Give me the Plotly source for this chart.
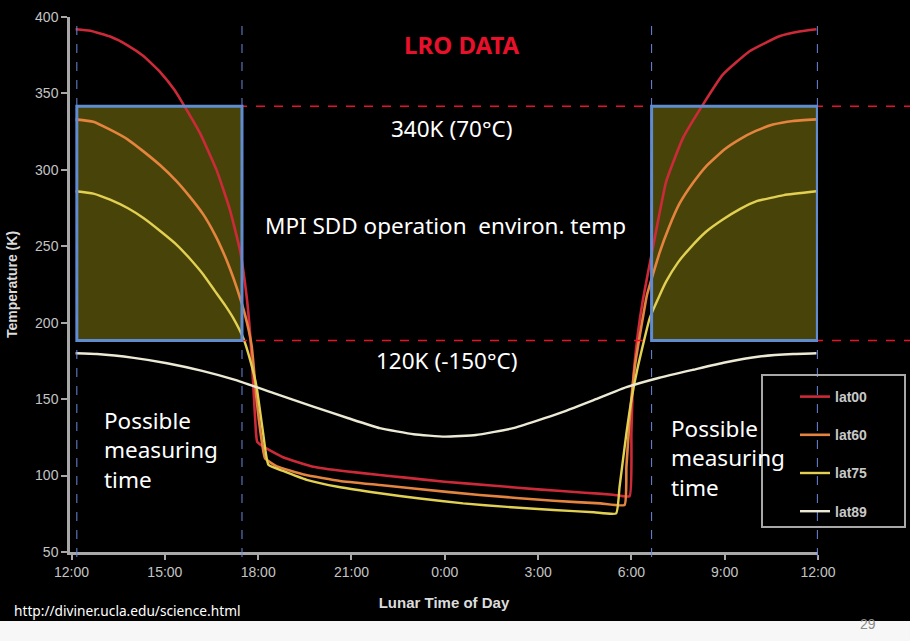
import plotly.graph_objects as go

# ---------------- data ----------------
# x = hours after local noon (0 = 12:00, 12 = 0:00, 24 = 12:00)
tick_vals = [0, 3, 6, 9, 12, 15, 18, 21, 24]
tick_text = ["12:00", "15:00", "18:00", "21:00", "0:00", "3:00", "6:00", "9:00", "12:00"]
y_ticks = [50, 100, 150, 200, 250, 300, 350, 400]

series_names = ["lat00", "lat60", "lat75", "lat89"]

lat00_h = [0.13, 0.6, 1.24, 1.8, 2.31, 2.85, 3.3, 3.59, 4.13, 4.67, 5.09, 5.42, 5.63, 5.74, 5.84,
           5.93, 5.97, 6.16, 6.8, 7.77, 8.8, 9.91, 10.66, 12.0, 13.5, 15.0, 16.5, 17.41, 17.94,
           18.0, 18.05, 18.21, 18.37, 18.69, 19.12, 19.66, 20.3, 20.94, 21.8, 22.76, 23.4, 23.95]
lat00_k = [392, 391, 387.2, 381.5, 374.5, 364, 352.5, 343, 324, 299.5, 274, 247, 217, 193, 160,
           128, 122, 119, 112, 105.8, 102.8, 100.4, 98.8, 96, 93.5, 91, 88.8, 87.5, 86.5,
           127.7, 160.4, 193.2, 215, 249, 292.5, 320.9, 342.7, 362.3, 377.6, 387.4, 390.5, 392]

lat60_h = [0.13, 0.7, 1.24, 1.8, 2.31, 2.85, 3.38, 3.8, 4.24, 4.6, 4.88, 5.1, 5.31, 5.58, 5.79,
           5.95, 6.11, 6.22, 6.6, 7.5, 8.63, 9.91, 11.0, 13.12, 15.5, 17.0, 17.78, 17.84, 17.95,
           18.11, 18.32, 18.5, 18.91, 19.2, 19.55, 20.0, 20.41, 21.0, 21.48, 22.0, 22.55, 23.2, 23.95]
lat60_k = [333, 331.5, 326.3, 320, 312.1, 303, 292.5, 282.5, 270.7, 258, 246, 235, 223, 205, 185,
           149.5, 123.3, 111.3, 106, 100.5, 96.5, 93.8, 91.5, 87.3, 83.5, 81.8, 80.8, 105.8, 138.6,
           171.3, 197.5, 218, 246, 262, 278, 292, 302.5, 313.5, 320, 325.5, 329.6, 332, 333]

lat75_h = [0.13, 0.7, 1.24, 1.8, 2.31, 2.85, 3.38, 3.8, 4.24, 4.6, 4.95, 5.2, 5.52, 5.75, 5.95,
           6.16, 6.33, 6.8, 7.56, 8.6, 9.91, 11.2, 12.59, 14.0, 15.5, 16.8, 17.51, 17.62, 17.84,
           18.0, 18.21, 18.59, 18.91, 19.12, 19.5, 19.87, 20.4, 20.94, 21.5, 22.01, 22.9, 23.95]
lat75_k = [286, 284.5, 280.5, 275, 268.5, 260, 251, 242, 231.4, 221, 211, 203, 190, 175, 158,
           127.7, 107, 103, 97.2, 92.5, 88.4, 85, 81.8, 79.5, 77.5, 76, 75.3, 92.7, 127.7,
           149.5, 171.3, 203, 218, 227, 239.5, 248.5, 259.5, 267.5, 274.5, 279.4, 283.5, 286]

lat89_h = [0.13, 0.82, 2.0, 3.07, 4.2, 5.26, 6.5, 7.77, 8.9, 9.91, 11.0, 12.0, 13.0, 14.2, 15.69,
           16.8, 17.84, 18.9, 19.98, 21.0, 22.12, 23.2, 23.95]
lat89_k = [180, 179.5, 177, 173.5, 168.5, 162.6, 154, 145.1, 137.5, 131, 127, 125.5, 126.5, 131, 140.8,
           149.5, 157.8, 164, 169.2, 174, 177.9, 179.5, 180]

# measuring windows (hours after noon) and SDD operating band (K, as drawn)
window_1 = (0.17, 5.48)
window_2 = (18.65, 23.98)
band_top = 341.6
band_bottom = 188.3

# ---------------- styling ----------------
colors = ["#cc2a38", "#e4843f", "#e2d052", "#ece9d4"]
widths = [2.6, 2.6, 2.4, 2.4]
W, H = 910, 641
ML, MR, MT, MB = 70, 92, 17, 89
PW = W - ML - MR
PH = H - MT - MB


def px(x):
    return (x - ML) / PW


def py(y):
    return (H - MB - y) / PH


fig = go.Figure()
data_h = [lat00_h, lat60_h, lat75_h, lat89_h]
data_k = [lat00_k, lat60_k, lat75_k, lat89_k]
for name, hh, kk, c, w in zip(series_names, data_h, data_k, colors, widths):
    fig.add_trace(go.Scatter(x=hh, y=kk, mode="lines", name=name, legendgroup=name,
                             line=dict(color=c, width=w, shape="spline", smoothing=0.4)))

shapes = []
# white strip at the bottom of the slide
shapes.append(dict(type="rect", xref="paper", yref="paper", x0=px(0), x1=px(W), y0=py(H), y1=py(621),
                   fillcolor="#f7f7f7", line=dict(width=0), layer="below"))
# yellow boxes (fill under, outline over)
for (a, b) in (window_1, window_2):
    shapes.append(dict(type="rect", xref="x", yref="y", x0=a, x1=b, y0=band_bottom, y1=band_top,
                       fillcolor="rgba(78,74,10,0.92)", line=dict(width=0), layer="below"))
# red dashed band limits
for yv in (band_top, band_bottom):
    shapes.append(dict(type="line", xref="paper", yref="y", x0=px(76), x1=px(W), y0=yv, y1=yv,
                       line=dict(color="#e8102a", width=1.5, dash="dash")))
for (a, b) in (window_1, window_2):
    shapes.append(dict(type="rect", xref="x", yref="y", x0=a, x1=b, y0=band_bottom, y1=band_top,
                       fillcolor="rgba(0,0,0,0)", line=dict(color="#5f8ccf", width=3)))
# blue dashed verticals
for xv in (window_1[0], window_1[1], window_2[0], window_2[1]):
    shapes.append(dict(type="line", xref="x", yref="paper", x0=xv, x1=xv, y0=py(557), y1=py(23),
                       line=dict(color="#6a88e0", width=1, dash="dash")))
# legend frame
shapes.append(dict(type="rect", xref="paper", yref="paper", x0=px(762), x1=px(905), y0=py(527), y1=py(375),
                   fillcolor="rgba(0,0,0,0)", line=dict(color="#a8a8a8", width=2)))

TXT = "Noto Sans"
BIG = 22.5
ann = [
    dict(text="<b>LRO DATA</b>", x=px(462), y=py(44), font=dict(family=TXT, size=24, color="#e8102a")),
    dict(text="340K (70°C)", x=px(451), y=py(128), font=dict(family=TXT, size=BIG, color="white")),
    dict(text="MPI SDD operation  environ. temp", x=px(445), y=py(225), font=dict(family=TXT, size=BIG, color="white")),
    dict(text="120K (-150°C)", x=px(447), y=py(360), font=dict(family=TXT, size=BIG, color="white")),
    dict(text="Possible<br>measuring<br>time", x=px(102), y=py(450), xanchor="left", align="left",
         font=dict(family=TXT, size=BIG, color="white")),
    dict(text="Possible<br>measuring<br>time", x=px(669), y=py(458), xanchor="left", align="left",
         font=dict(family=TXT, size=BIG, color="white")),
    dict(text="http://diviner.ucla.edu/science.html", x=px(12), y=py(610), xanchor="left",
         font=dict(family=TXT, size=13.7, color="white")),
    dict(text="29", x=px(868), y=py(624), font=dict(family="Liberation Sans", size=14, color="#8a8a8a")),
]
for a in ann:
    a.setdefault("xanchor", "center")
    a.update(xref="paper", yref="paper", yanchor="middle", showarrow=False)

AX = "Liberation Sans"
fig.update_layout(
    width=W, height=H, autosize=False,
    margin=dict(l=ML, r=MR, t=MT, b=MB),
    paper_bgcolor="black", plot_bgcolor="black",
    shapes=shapes, annotations=ann,
    showlegend=True,
    legend=dict(x=px(795), y=py(381), xanchor="left", yanchor="top", bgcolor="rgba(0,0,0,0)",
                borderwidth=0, tracegroupgap=17, itemwidth=30,
                font=dict(family=AX, size=14, color="#c8c8c8", weight="bold")),
    xaxis=dict(range=[-0.05, 24.0], tickvals=tick_vals, ticktext=tick_text, showgrid=False, zeroline=False,
               showline=True, linecolor="#a8a8a8", linewidth=2.5, ticks="outside", ticklen=5, tickwidth=2,
               tickcolor="#a8a8a8", tickfont=dict(family=AX, size=14, color="#c4c4c4"),
               title=dict(text="Lunar Time of Day", standoff=19,
                          font=dict(family=AX, size=15, color="#dcdcdc", weight="bold")),
               automargin=False),
    yaxis=dict(range=[50, 400], tickvals=y_ticks, showgrid=False, zeroline=False,
               showline=True, linecolor="#a8a8a8", linewidth=2.5, ticks="outside", ticklen=6, tickwidth=2,
               tickcolor="#a8a8a8", tickfont=dict(family=AX, size=14, color="#c4c4c4"),
               title=dict(text="Temperature (K)", standoff=15,
                          font=dict(family=AX, size=14, color="#dcdcdc", weight="bold")),
               automargin=False),
)

fig.write_html("out.html", config={"displayModeBar": False},
               post_script="document.body.style.margin='0px';document.body.style.overflow='hidden';")
